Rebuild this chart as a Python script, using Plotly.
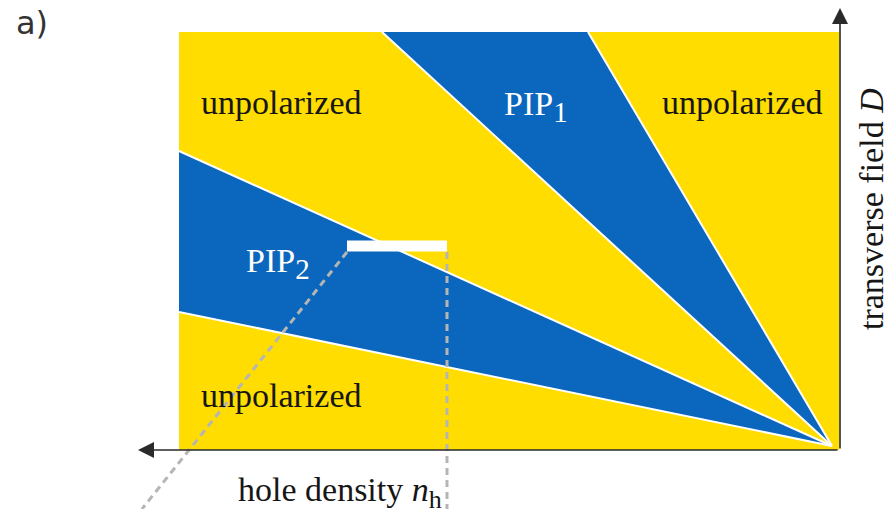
import plotly.graph_objects as go

# Phase diagram in (hole density n_h, transverse field D), arbitrary units.
# n_h grows to the left, D grows upward; all phase boundaries meet at the origin.
panel_nh = [-0.07, 6.53]          # extent of the drawn diagram along n_h
panel_D = [-0.04, 4.14]           # extent along D

# PIP1 wedge: boundaries cross the top edge (D = panel_D[1]) at these n_h values
pip1_top_nh = [2.44, 4.50]
# PIP2 wedge: boundaries cross the left edge (n_h = panel_nh[1]) at these D values
pip2_edge_D = [1.34, 2.95]

# Constant-D cut marked by the white bar
cut_nh = [3.85, 4.85]
cut_D = 2.0

# Guide lines dropping from the cut to the density axis
guide_left = {"nh": [4.85, 6.90], "D": [1.94, -0.63]}
guide_right = {"nh": [3.85, 3.85], "D": [1.94, -0.63]}

# Axis arrows (tail -> tip)
nh_axis = {"tail": (-0.07, -0.04), "tip": (6.94, -0.04)}
d_axis = {"tail": (-0.08, -0.04), "tip": (-0.08, 4.38)}

YELLOW = "#FFDD00"
BLUE = "#0A67BD"
W, H = 889, 509

fig = go.Figure()

# unpolarized background
fig.add_shape(type="rect", x0=panel_nh[0], x1=panel_nh[1], y0=panel_D[0], y1=panel_D[1],
              fillcolor=YELLOW, line_width=0, layer="below")

# PIP1 wedge
fig.add_trace(go.Scatter(
    x=[0, pip1_top_nh[0], pip1_top_nh[1], 0],
    y=[0, panel_D[1], panel_D[1], 0],
    mode="lines", fill="toself", fillcolor=BLUE, line=dict(width=0),
    hoverinfo="skip", showlegend=False))

# PIP2 wedge
fig.add_trace(go.Scatter(
    x=[0, panel_nh[1], panel_nh[1], 0],
    y=[0, pip2_edge_D[0], pip2_edge_D[1], 0],
    mode="lines", fill="toself", fillcolor=BLUE, line=dict(width=0),
    hoverinfo="skip", showlegend=False))

# white phase boundaries
for nh_end, d_end in [(pip1_top_nh[0], panel_D[1]), (pip1_top_nh[1], panel_D[1]),
                      (panel_nh[1], pip2_edge_D[0]), (panel_nh[1], pip2_edge_D[1])]:
    fig.add_trace(go.Scatter(x=[0, nh_end], y=[0, d_end], mode="lines",
                             line=dict(color="white", width=2),
                             hoverinfo="skip", showlegend=False))

# dashed guides
for g in (guide_left, guide_right):
    fig.add_trace(go.Scatter(x=g["nh"], y=g["D"], mode="lines",
                             line=dict(color="#B5B5B5", width=3, dash="7px,5px"),
                             hoverinfo="skip", showlegend=False))

# white bar at the cut
fig.add_shape(type="rect", x0=cut_nh[0], x1=cut_nh[1], y0=cut_D - 0.055, y1=cut_D + 0.055,
              fillcolor="white", line_width=0, layer="above")

# axis arrows
for ax_ in (nh_axis, d_axis):
    fig.add_annotation(x=ax_["tip"][0], y=ax_["tip"][1], ax=ax_["tail"][0], ay=ax_["tail"][1],
                       xref="x", yref="y", axref="x", ayref="y", text="",
                       showarrow=True, arrowhead=2, arrowsize=2.0, arrowwidth=1.6,
                       arrowcolor="#2a2a2a")

SERIF = "Liberation Serif"


def label(text, px, py, size=34, color="#161616", angle=0, xanchor="center", family=SERIF):
    fig.add_annotation(x=px / W, y=1 - py / H, xref="paper", yref="paper", text=text,
                       showarrow=False, xanchor=xanchor, yanchor="middle", textangle=angle,
                       font=dict(family=family, size=size, color=color))


def sub(s, size):
    return f"<sub><span style='font-size:{size}px'>{s}</span></sub>"


label("unpolarized", 281, 103)
label("unpolarized", 742, 103)
label("unpolarized", 281, 395)
label("PIP" + sub("1", 29), 536, 106, color="white")
label("PIP" + sub("2", 29), 278, 263, color="white")
label("hole density <i>n</i>" + sub("h", 26), 340, 492)
label("transverse field <i>D</i>", 871, 209, angle=-90)
label("a)", 14, 23, size=32, color="#333333", xanchor="left", family="DejaVu Sans")

fig.update_layout(
    width=W, height=H, autosize=False,
    margin=dict(l=0, r=0, t=0, b=0),
    paper_bgcolor="white", plot_bgcolor="white",
    xaxis=dict(range=[8.32, -0.57], visible=False, fixedrange=True),
    yaxis=dict(range=[-0.63, 4.46], visible=False, fixedrange=True),
    showlegend=False,
)

fig.write_html("out.html")
